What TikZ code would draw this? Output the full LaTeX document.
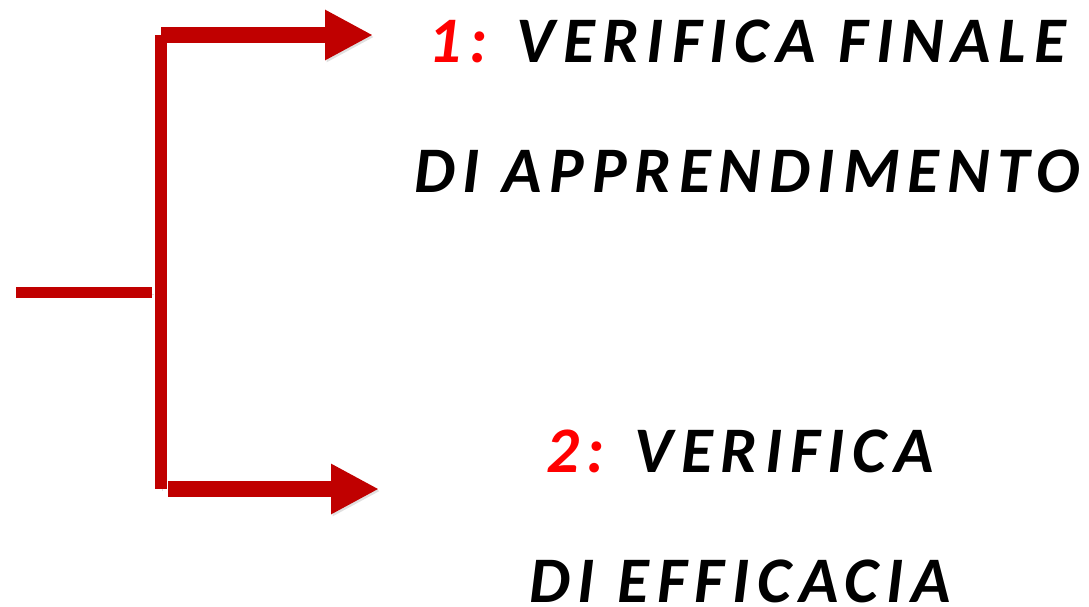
\documentclass[tikz,border=0pt]{standalone}
\usepackage{fontspec}
\usepackage{tikz}
\usetikzlibrary{arrows.meta}
\newfontfamily\labelfont{Carlito}[LetterSpace=12]
\definecolor{darkred}{HTML}{C00000}
\definecolor{numred}{HTML}{FF0000}

\tikzset{
    shade/.style={preaction={draw=black!35, opacity=0.35, transform canvas={shift={(1.5pt,-2pt)}}}},
    bar/.style={draw=darkred, line width=11pt, shade},
    trunk/.style={draw=darkred, line width=12pt, shade},
    branch/.style={draw=darkred, line width=16pt, shade, -{Triangle[length=48pt,width=47pt]}},
    goal/.style={align=center, inner sep=0pt, font=\labelfont\bfseries\itshape\fontsize{65}{130}\selectfont},
}

\begin{document}
\begin{tikzpicture}[x=1pt,y=-1pt]
    \useasboundingbox (0,0) rectangle (1089,607);

    \coordinate (in) at (16,292);
    \coordinate (fork) at (152,292);
    \coordinate (top) at (161,35);
    \coordinate (bottom) at (161,489);
    \coordinate (topstart) at (161,35);
    \coordinate (botstart) at (168,489);
    \coordinate (tip1) at (373,35);
    \coordinate (tip2) at (379,489);

    % base anchor sits on the last line
    \node[goal, anchor=base] (finale) at (747,192)
        {\textcolor{numred}{1:} VERIFICA FINALE\\DI APPRENDIMENTO};
    \node[goal, anchor=base] (efficacia) at (740,602)
        {\textcolor{numred}{2:} VERIFICA\\DI EFFICACIA};

    \path[bar] (in) -- (fork);
    \path[trunk] (top) -- (bottom);
    \path[branch] (topstart) -- (tip1);
    \path[branch] (botstart) -- (tip2);
\end{tikzpicture}
\end{document}
